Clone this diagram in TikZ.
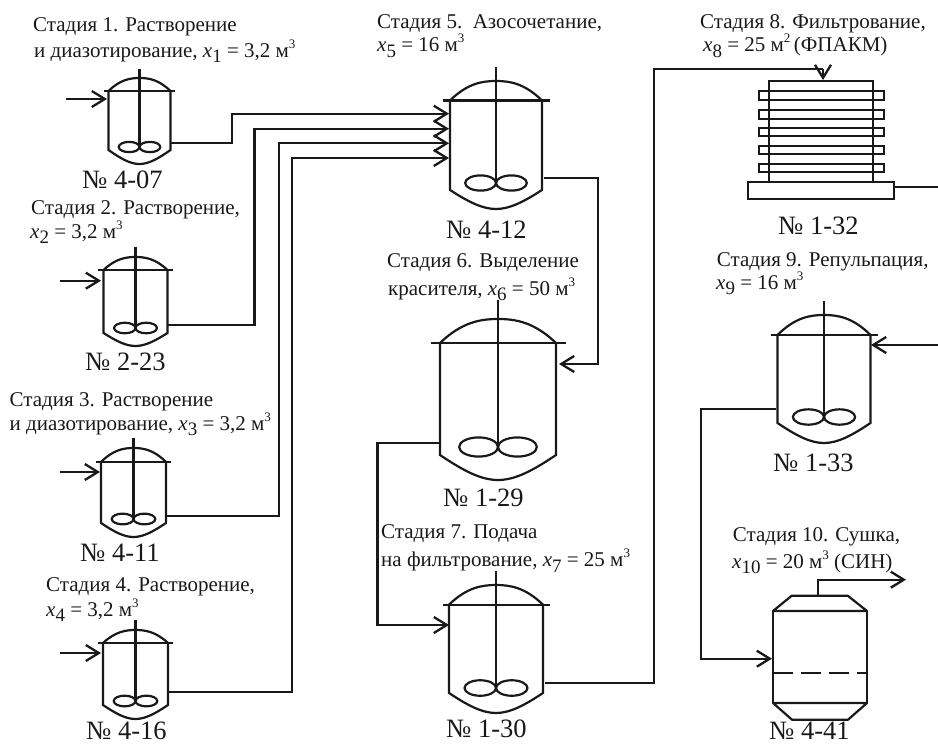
\documentclass[tikz,border=0pt]{standalone}
\usepackage{fontspec}
\setmainfont{Liberation Serif}
\newcommand{\xs}[1]{{\itshape x}\raisebox{-0.26em}{\fontsize{19}{19}\selectfont #1}}
\newcommand{\cub}{\raisebox{0.42em}{\fontsize{13}{13}\selectfont 3}}
\newcommand{\sq}{\raisebox{0.42em}{\fontsize{13}{13}\selectfont 2}}
% cx, hw, lidhw, lidy, domey, shafty, boty, tipy, impy
\newcommand{\reactorbody}[9]{%
  \pgfmathsetmacro{\cxv}{#1}\pgfmathsetmacro{\hwv}{#2}%
  \pgfmathsetmacro{\ihv}{\hwv*0.67}\pgfmathsetmacro{\irv}{\hwv*0.165}%
  \draw[vessel] (\cxv-#3,#4) -- (\cxv+#3,#4);
  \draw[vessel] (\cxv,#6) -- (\cxv,#9);
  \draw[vessel] (\cxv-\hwv,#4) .. controls (\cxv-0.62*\hwv,#5+0.12*#4-0.12*#5) and (\cxv-0.3*\hwv,#5) .. (\cxv,#5)
     .. controls (\cxv+0.3*\hwv,#5) and (\cxv+0.62*\hwv,#5+0.12*#4-0.12*#5) .. (\cxv+\hwv,#4);
  \draw[vessel,line join=miter] (\cxv-\hwv,#4) -- (\cxv-\hwv,#7)
     .. controls (\cxv-0.6*\hwv,#7+0.62*#8-0.62*#7) and (\cxv-0.3*\hwv,#8) .. (\cxv,#8)
     .. controls (\cxv+0.3*\hwv,#8) and (\cxv+0.6*\hwv,#7+0.62*#8-0.62*#7) .. (\cxv+\hwv,#7) -- (\cxv+\hwv,#4);
  \draw[vessel] (\cxv-\ihv/2,#9) ellipse [x radius=\ihv/2, y radius=\irv];
  \draw[vessel] (\cxv+\ihv/2,#9) ellipse [x radius=\ihv/2, y radius=\irv];
}
\tikzset{
  x=1pt,y=-1pt,
  vessel/.style={line width=2.2pt,black!90,line join=round},
  pipe/.style={line width=2.3pt,black!90,line join=miter},
  flow/.style={pipe,-{Straight Barb[length=13pt,width=16pt,line width=2.3pt]}},
  lbl/.style={anchor=base west,inner sep=0pt,font=\fontsize{21}{21}\selectfont,text=black!90},
  num/.style={anchor=base west,inner sep=0pt,font=\fontsize{26.5}{26.5}\selectfont,text=black!90},
}
\usetikzlibrary{arrows.meta}
\begin{document}
\begin{tikzpicture}
\useasboundingbox (0,0) rectangle (938,745);
% reactors
\reactorbody{139.5}{31}{35.5}{91}{78}{69}{150}{164}{147}
\reactorbody{135.5}{32}{37.5}{270}{257}{247}{333}{346}{328}
\reactorbody{133.5}{32.5}{37.5}{462}{448}{438}{523}{537}{519}
\reactorbody{135.5}{32.5}{37.5}{643}{630}{620}{705}{719}{701}
\reactorbody{496}{46}{53.5}{100.5}{81}{67}{190}{209}{183}
\reactorbody{498}{58}{67.5}{343}{319}{300}{455}{480}{447}
\reactorbody{496}{47}{53.5}{604.7}{585}{571}{693}{713}{688}
\reactorbody{824}{46.5}{53.5}{335}{315}{301}{423}{443}{417}
% filter
\foreach \a/\b in {90.7/100,109.7/118.7,127.7/136,145.7/154,163.7/172}
  \draw[vessel,line join=miter] (759,\a) rectangle (884,\b);
\draw[vessel,line join=miter] (769,81) rectangle (873,182);
\draw[vessel,line join=miter] (748,182) rectangle (894,199);
% dryer
\draw[vessel] (773,611) -- (791.7,595.7) -- (847.7,595.7) -- (867,611) -- cycle;
\draw[vessel] (773,703) -- (792,719.7) -- (848,719.7) -- (867,703) -- cycle;
\draw[vessel] (773,611) -- (773,703) (867,611) -- (867,703);
\draw[vessel,dash pattern=on 20pt off 8pt] (773,673) -- (867,673);
% ports
\coordinate (o1) at (170,143); \coordinate (i5a) at (449,113.7);
\coordinate (o2) at (168,324.7); \coordinate (i5b) at (449,128.7);
\coordinate (o3) at (166.5,515.7); \coordinate (i5c) at (449,143.3);
\coordinate (o4) at (168,692); \coordinate (i5d) at (449,158);
\coordinate (o5) at (544,177.7); \coordinate (i6) at (559,364);
\coordinate (o6) at (440,442.7); \coordinate (i7) at (449,625);
\coordinate (o7) at (545,683); \coordinate (i8) at (823,80);
\coordinate (o8) at (894,187); \coordinate (e8) at (938,187);
\coordinate (s9) at (938,345); \coordinate (i9) at (871,345);
\coordinate (o9) at (776,408.7); \coordinate (i10) at (772,658.7);
\coordinate (o10) at (818,595.7); \coordinate (e10) at (906,579.7);
\coordinate (s1) at (66,99); \coordinate (i1) at (107,99);
\coordinate (s2) at (60,280.7); \coordinate (i2) at (101,280.7);
\coordinate (s3) at (60,472); \coordinate (i3) at (100,472);
\coordinate (s4) at (60,653); \coordinate (i4) at (101,653);
% connectors
\draw[flow] (o1) -- (232,143) -- (232,113.7) -- (i5a);
\draw[flow] (o2) -- (254.5,324.7) -- (254.5,128.7) -- (i5b);
\draw[flow] (o3) -- (279,515.7) -- (279,143.3) -- (i5c);
\draw[flow] (o4) -- (292,692) -- (292,158) -- (i5d);
\draw[flow] (o5) -- (598,177.7) -- (598,364) -- (i6);
\draw[flow] (o6) -- (377.5,442.7) -- (377.5,625) -- (i7);
\draw[pipe] (o7) -- (654,683) -- (654,69) -- (823,69);
\draw[flow] (823,69) -- (i8);
\draw[pipe] (o8) -- (e8);
\draw[flow] (s9) -- (i9);
\draw[flow] (o9) -- (700.7,408.7) -- (700.7,658.7) -- (i10);
\draw[flow] (o10) -- (818,579.7) -- (e10);
\draw[flow] (s1) -- (i1);
\draw[flow] (s2) -- (i2);
\draw[flow] (s3) -- (i3);
\draw[flow] (s4) -- (i4);
% labels
\node[lbl] (t1a) at (33,31) {Стадия 1. Растворение};
\node[lbl] (t1b) at (34,57.3) {и диазотирование, \xs{1} = 3,2 м\cub};
\node[num] (n1) at (82,188) {№ 4-07};
\node[lbl] (t2a) at (31,214) {Стадия 2. Растворение,};
\node[lbl] (t2b) at (30,238) {\xs{2} = 3,2 м\cub};
\node[num] (n2) at (85,370) {№ 2-23};
\node[lbl] (t3a) at (9.5,406) {Стадия 3. Растворение};
\node[lbl] (t3b) at (9.5,430) {и диазотирование, \xs{3} = 3,2 м\cub};
\node[num] (n3) at (80,561.7) {№ 4-11};
\node[lbl] (t4a) at (46,591) {Стадия 4. Растворение,};
\node[lbl] (t4b) at (46,616) {\xs{4} = 3,2 м\cub};
\node[num] (n4) at (86,739) {№ 4-16};
\node[lbl] (t5a) at (377,28) {Стадия 5.\ \ Азосочетание,};
\node[lbl] (t5b) at (377,51.7) {\xs{5} = 16 м\cub};
\node[num] (n5) at (446,238) {№ 4-12};
\node[lbl] (t6a) at (387,267) {Стадия 6. Выделение};
\node[lbl] (t6b) at (388,295) {красителя, \xs{6} = 50 м\cub};
\node[num] (n6) at (443,506.7) {№ 1-29};
\node[lbl] (t7a) at (381,538) {Стадия 7. Подача};
\node[lbl] (t7b) at (381,566.7) {на фильтрование, \xs{7} = 25 м\cub};
\node[num] (n7) at (446,737) {№ 1-30};
\node[lbl] (t8a) at (700,28) {Стадия 8. Фильтрование,};
\node[lbl] (t8b) at (703,51.7) {\xs{8} = 25 м\sq\,(ФПАКМ)};
\node[num] (n8) at (778,234) {№ 1-32};
\node[lbl] (t9a) at (716.7,266.7) {Стадия 9. Репульпация,};
\node[lbl] (t9b) at (716,289) {\xs{9} = 16 м\cub};
\node[num] (n9) at (773,471.7) {№ 1-33};
\node[lbl] (t10a) at (732.7,541.7) {Стадия 10. Сушка,};
\node[lbl] (t10b) at (732,568) {\xs{10} = 20 м\cub\ (СИН)};
\node[num] (n10) at (769,739) {№ 4-41};
\end{tikzpicture}
\end{document}
